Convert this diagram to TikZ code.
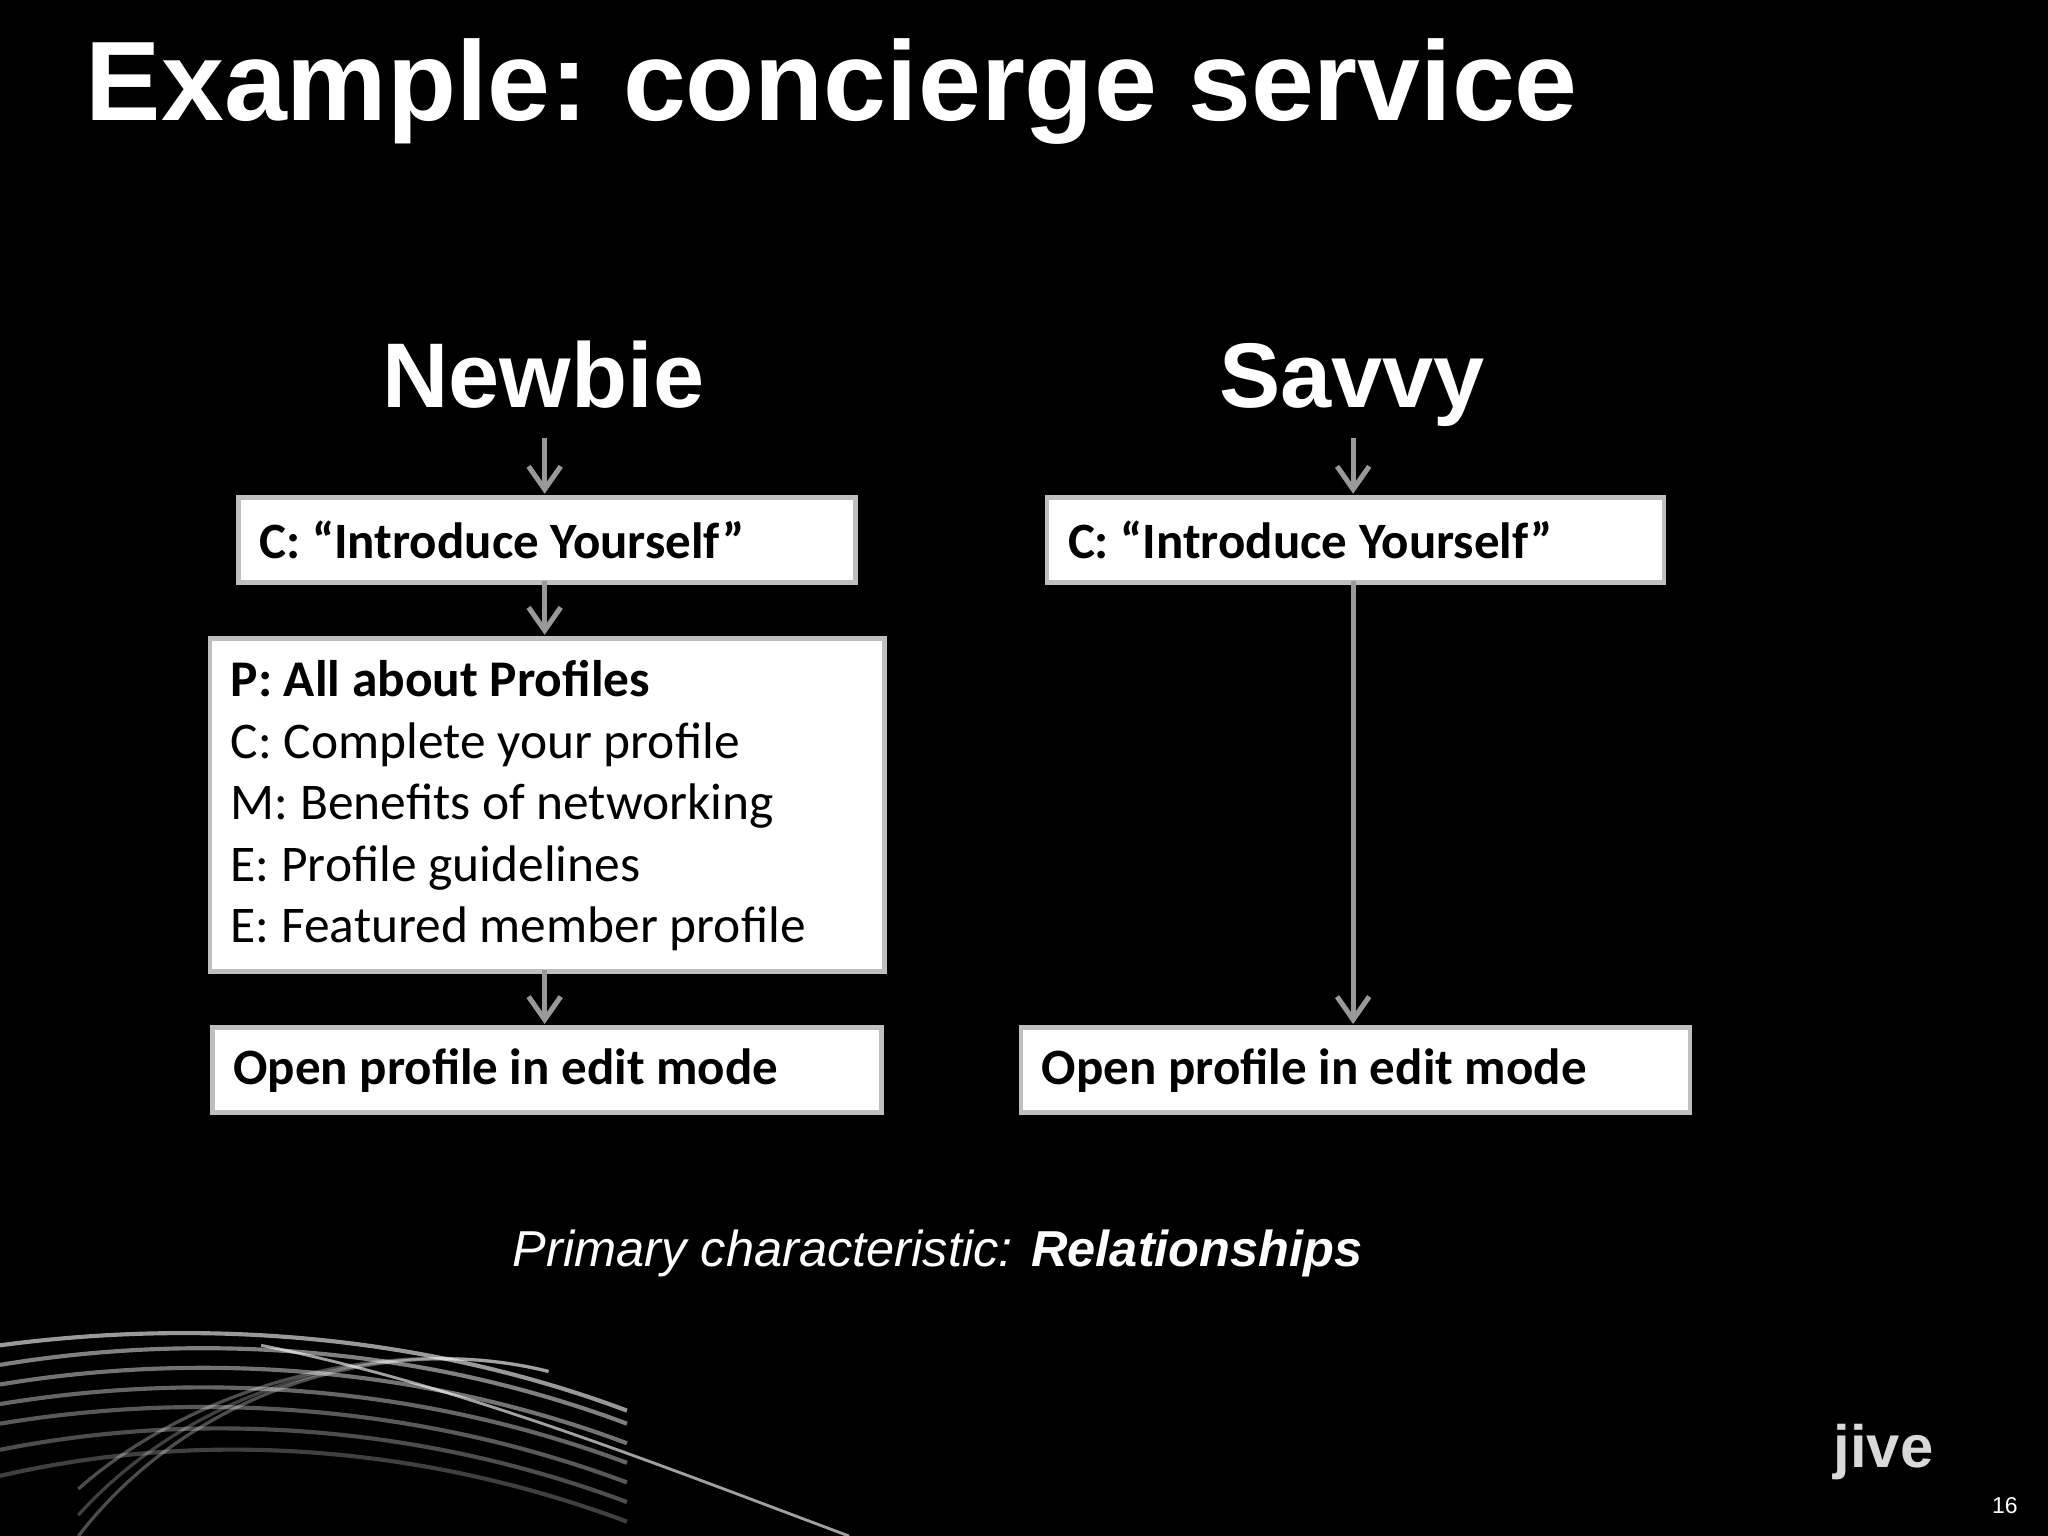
\documentclass[tikz,border=0pt]{standalone}
\usepackage{fontspec}
\setmainfont{Carlito}
\newfontfamily\arial{Liberation Sans}
\usetikzlibrary{arrows.meta}
\begin{document}
\begin{tikzpicture}[x=0.01cm,y=-0.01cm,
  box/.style={draw=black!25,line width=1pt,fill=white,anchor=north west,inner sep=0pt},
  bt/.style={anchor=west,inner sep=0pt,font=\bfseries\fontsize{11.1pt}{13pt}\selectfont},
  arr/.style={draw=black!40,line width=1.1pt,-{Straight Barb[length=5pt,width=7pt]}},
  hd/.style={text=white,anchor=base,font=\arial\bfseries\fontsize{20pt}{24pt}\selectfont}]
\fill[black] (0,0) rectangle (1568,1176);
\useasboundingbox (0,0) rectangle (1568,1176);
% streaks
\foreach \a/\b/\o in {1030/1040/0.6,1045/1050/0.5,1060/1065/0.45,1075/1080/0.4,1090/1095/0.35,1110/1110/0.3,1130/1125/0.25}{
  \draw[white,opacity=\o,line width=0.9pt] (0,\a) .. controls (150,\b-30) and (320,\b-20) .. (480,\b+40);
}
\foreach \a/\o in {1176/0.3,1160/0.25,1140/0.3}{
  \draw[white,opacity=\o,line width=0.7pt] (60,\a) .. controls (150,1060) and (300,1020) .. (420,1050);
  \draw[white,opacity=\o,line width=0.6pt] (200,1030) .. controls (350,1060) and (500,1120) .. (650,1176);
}
\node[text=white,anchor=west,inner sep=0pt,font=\arial\bfseries\fontsize{24.6pt}{30pt}\selectfont] (title) at (65,70) {Example:\kern-1.5pt{} concierge service};
\node[hd] (newbie) at (416,312) {Newbie};
\node[hd] (savvy) at (1035,312) {Savvy};
\node[box,minimum width=4.72cm,minimum height=0.65cm] (i1) at (181,379) {};
\node[bt] at (198,413) {C: “Introduce Yourself”};
\node[box,minimum width=4.72cm,minimum height=0.65cm] (i2) at (800,379) {};
\node[bt] at (817,413) {C: “Introduce Yourself”};
\node[box,minimum width=5.16cm,minimum height=2.55cm] (p) at (159,487) {};
\node[anchor=north west,inner sep=0pt,align=left,font=\fontsize{11.2pt}{13.4pt}\selectfont] (pt) at (176,505) {\textbf{P: All about Profiles}\\C: Complete your profile\\M: Benefits of networking\\E: Profile guidelines\\E: Featured member profile};
\node[box,minimum width=5.12cm,minimum height=0.65cm] (o1) at (161,785) {};
\node[bt] at (178,820) {Open profile in edit mode};
\node[box,minimum width=5.12cm,minimum height=0.65cm] (o2) at (780,785) {};
\node[bt] at (797,820) {Open profile in edit mode};
\draw[arr] (417,335) -- (417,378);
\draw[arr] (417,445) -- (417,486);
\draw[arr] (417,743) -- (417,784);
\draw[arr] (1036,335) -- (1036,378);
\draw[arr] (1036,445) -- (1036,784);
\node[text=white,font=\arial\fontsize{11pt}{13pt}\selectfont] (cap) at (718,960) {\itshape Primary characteristic: \bfseries Relationships};
\node[text=white!85!black,font=\arial\bfseries\fontsize{13pt}{15pt}\selectfont] (jive) at (1442,1112) {jive};
\node[text=white,font=\arial\fontsize{5pt}{6pt}\selectfont] (pg) at (1535,1153) {16};
\end{tikzpicture}
\end{document}
